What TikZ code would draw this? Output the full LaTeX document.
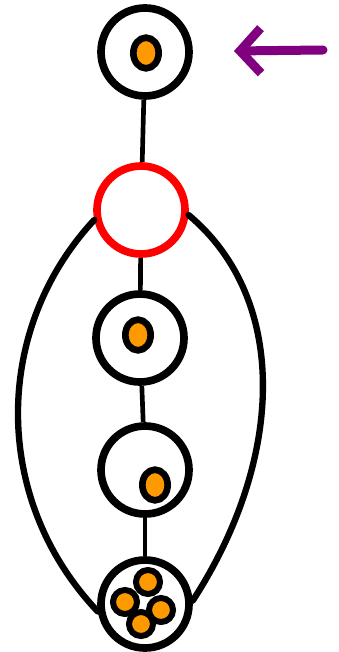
\documentclass[tikz,border=0pt]{standalone}
\usepackage{tikz}
\usetikzlibrary{arrows.meta,shapes.geometric}

\definecolor{dotorange}{RGB}{255,153,0}
\definecolor{arrowpurple}{RGB}{128,0,128}

\begin{document}
\begin{tikzpicture}[x=0.03cm, y=-0.03cm,
        state/.style={circle, draw=black, line width=0.23cm, inner sep=0pt, minimum size=2.64cm},
        dot/.style={ellipse, draw=black, fill=dotorange, line width=0.2cm, inner sep=0pt, minimum width=0.76cm, minimum height=0.92cm},
        smalldot/.style={circle, draw=black, fill=dotorange, line width=0.18cm, inner sep=0pt, minimum size=0.72cm},
        link/.style={line width=0.14cm},
        loop/.style={line width=0.19cm, line cap=round}]
        \useasboundingbox (0, 0) rectangle (338, 652);

        \coordinate (s1) at (145, 52);
        \coordinate (s2) at (141, 210);
        \coordinate (s3) at (140, 338);
        \coordinate (s4) at (145, 470);
        \coordinate (s5) at (145, 604);

        \node[state] (nodes1) at (s1) {};
        \node[state, draw=red] (nodes2) at (s2) {};
        \node[state] (nodes3) at (s3) {};
        \node[state] (nodes4) at (s4) {};
        \node[state] (nodes5) at (s5) {};

        \node[dot] (dots1) at (146, 53) {};
        \node[dot] (dots3) at (138, 335) {};
        \node[dot] (dots4) at (155, 485) {};
        \node[smalldot] (dotsa) at (148, 582) {};
        \node[smalldot] (dotsb) at (125, 602) {};
        \node[smalldot] (dotsc) at (161, 610) {};
        \node[smalldot] (dotsd) at (141, 624) {};

        \draw[link] (nodes1) -- (nodes2);
        \draw[link] (nodes2) -- (nodes3);
        \draw[link] (nodes3) -- (nodes4);
        \draw[link] (nodes4) -- (nodes5);

        \draw[loop] (nodes2.192) .. controls (-8, 330) and (-8, 500) .. (nodes5.189);
        \draw[loop] (nodes2.354) .. controls (290, 300) and (284, 460) .. (nodes5.4);

        % pointer at the top state
        \coordinate (arrowtail) at (323, 50);
        \coordinate (arrowtip) at (234, 51);
        \draw[arrowpurple, line width=0.27cm, line cap=round,
              -{Straight Barb[length=0.62cm, width=1.35cm]}] (arrowtail) -- (arrowtip);
\end{tikzpicture}
\end{document}
